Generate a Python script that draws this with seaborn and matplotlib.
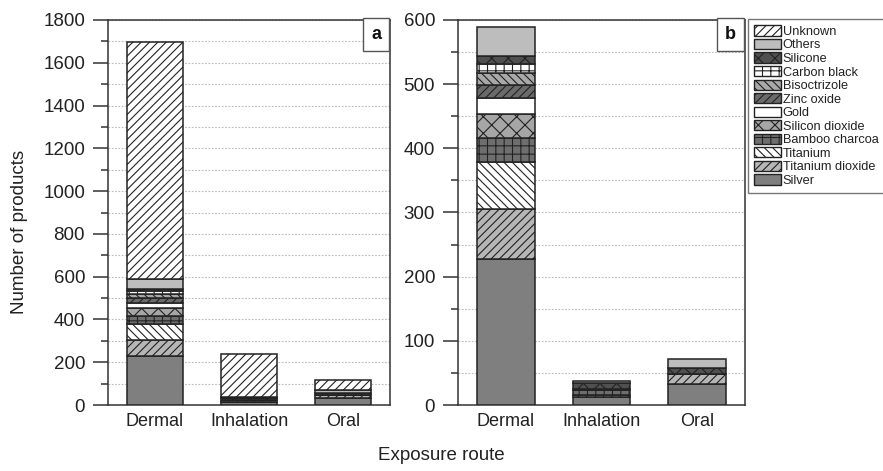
import matplotlib
matplotlib.use("Agg")
import matplotlib.pyplot as plt
import seaborn as sns
import numpy as np
from matplotlib.patches import Patch
from matplotlib.ticker import MultipleLocator, FixedLocator

# ---- data ----
routes = ["Dermal", "Inhalation", "Oral"]
materials = ["Silver", "Titanium dioxide", "Titanium", "Bamboo charcoa", "Silicon dioxide",
             "Gold", "Zinc oxide", "Bisoctrizole", "Carbon black", "Silicone", "Others", "Unknown"]
silver = [228, 13, 32]
titanium_dioxide = [78, 2, 17]
titanium = [72, 0, 0]
bamboo_charcoal = [38, 8, 0]
silicon_dioxide = [38, 0, 0]
gold = [25, 0, 0]
zinc_oxide = [20, 0, 0]
bisoctrizole = [18, 0, 0]
carbon_black = [14, 2, 0]
silicone = [13, 9, 9]
others = [45, 4, 13]
unknown = [1110, 200, 47]
series = [silver, titanium_dioxide, titanium, bamboo_charcoal, silicon_dioxide, gold,
          zinc_oxide, bisoctrizole, carbon_black, silicone, others, unknown]

# ---- styles ----
styles = {
    "Silver": ("#7f7f7f", ""),
    "Titanium dioxide": ("#b6b6b6", "////"),
    "Titanium": ("#ffffff", "\\\\\\\\"),
    "Bamboo charcoa": ("#6e6e6e", "++"),
    "Silicon dioxide": ("#a6a6a6", "xx"),
    "Gold": ("#ffffff", ""),
    "Zinc oxide": ("#6a6a6a", "////"),
    "Bisoctrizole": ("#a8a8a8", "\\\\\\\\"),
    "Carbon black": ("#ffffff", "++"),
    "Silicone": ("#505050", "xx"),
    "Others": ("#bdbdbd", ""),
    "Unknown": ("#ffffff", "////"),
}

sns.set_theme(style="white")
plt.rcParams["font.family"] = ["Liberation Sans", "DejaVu Sans"]
plt.rcParams["hatch.linewidth"] = 0.8
plt.rcParams["hatch.color"] = "#222222"
TXT = "#222222"

fig = plt.figure(figsize=(8.83, 4.71), dpi=100)
ax_a = fig.add_axes([108 / 883, 1 - 405 / 471, 282 / 883, 385 / 471])
ax_b = fig.add_axes([458 / 883, 1 - 405 / 471, 287 / 883, 385 / 471])


def draw(ax, include_unknown, ymax, major, minor, label):
    bottom = np.zeros(len(routes))
    for name, vals in zip(materials, series):
        if name == "Unknown" and not include_unknown:
            continue
        fc, h = styles[name]
        v = np.array(vals, dtype=float)
        sns.barplot(x=routes, y=v, bottom=bottom, color=fc, hatch=h, edgecolor="#222222",
                    linewidth=1.1, width=0.6, errorbar=None, ax=ax, saturation=1, zorder=3)
        bottom = bottom + v
    ax.set_xlim(-0.5, 2.5)
    ax.set_ylim(0, ymax)
    ax.yaxis.set_major_locator(MultipleLocator(major))
    ax.yaxis.set_minor_locator(MultipleLocator(minor))
    ax.xaxis.set_minor_locator(FixedLocator([-0.5, 0.5, 1.5, 2.5]))
    ax.tick_params(axis="x", which="major", length=0, labelsize=13, colors=TXT, pad=6)
    ax.tick_params(axis="x", which="minor", length=10, width=1.1, color="#333333", direction="out")
    ax.tick_params(axis="y", which="major", length=10.5, width=1.1, color="#333333",
                   labelsize=13.5, labelcolor=TXT, left=True, direction="out", pad=6)
    ax.tick_params(axis="y", which="minor", length=5, width=1.1, color="#333333",
                   left=True, direction="out")
    ax.grid(True, which="both", axis="y", linestyle=(0, (1.5, 1.5)), color="#bbbbbb",
            linewidth=0.8, zorder=0)
    ax.set_axisbelow(True)
    for s in ax.spines.values():
        s.set_visible(True)
        s.set_color("#333333")
        s.set_linewidth(1.1)
    ax.set_xlabel("")
    ax.set_ylabel("")
    w = ax.get_position().width * 883
    hgt = ax.get_position().height * 471
    ax.text(1 - 9 / w, 1 - 6 / hgt, label, transform=ax.transAxes, ha="right", va="top",
            fontsize=13, fontweight="bold", color="#111111", zorder=5,
            bbox=dict(boxstyle="square,pad=0.45", fc="white", ec="#555555", lw=1.0))


draw(ax_a, True, 1800, 200, 100, "a")
draw(ax_b, False, 600, 100, 50, "b")

fig.text(20 / 883, 1 - 232 / 471, "Number of products", rotation=90, ha="center", va="center",
         fontsize=13.5, color=TXT)
fig.text(441 / 883, 1 - 455 / 471, "Exposure route", ha="center", va="center",
         fontsize=13.5, color=TXT)

handles = []
labels = []
for name in materials[::-1]:
    fc, h = styles[name]
    handles.append(Patch(facecolor=fc, edgecolor="#222222", hatch=h, linewidth=1.0))
    labels.append(name)
leg = fig.legend(handles, labels, loc="upper left", bbox_to_anchor=(748 / 883, 1 - 19 / 471),
                 bbox_transform=fig.transFigure, fontsize=9.2, frameon=True, fancybox=False,
                 edgecolor="#555555", labelspacing=0.08, handlelength=2.1, handleheight=0.85,
                 handletextpad=0.12, borderpad=0.5, borderaxespad=0)
leg.get_frame().set_linewidth(1.0)
for t in leg.get_texts():
    t.set_color(TXT)

fig.savefig("out.png", dpi=100)
